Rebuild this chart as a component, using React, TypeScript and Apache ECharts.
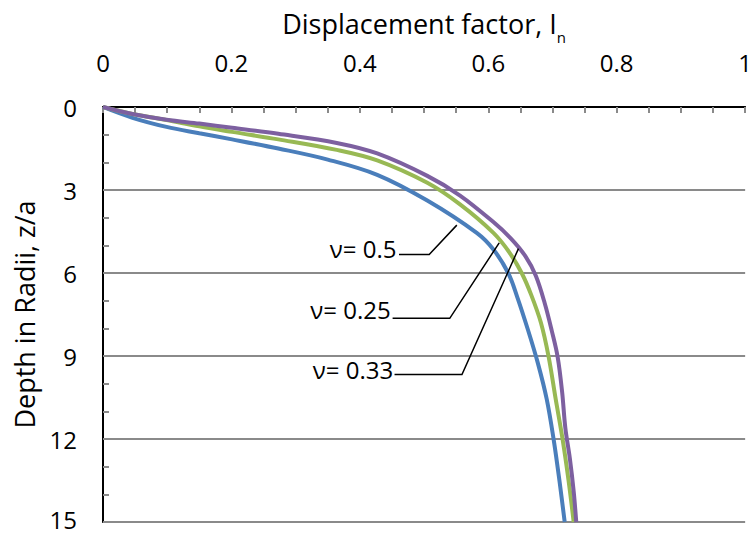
import React, { useEffect, useRef } from "react";
import * as echarts from "echarts";

const FONT = "'Open Sans', 'Noto Sans', sans-serif";

// Displacement factor I_n versus depth z/a, one curve per Poisson's ratio
const nu050: [number, number][] = [
  [0, 0], [0.046, 0.39], [0.099, 0.72], [0.15, 0.95], [0.201, 1.17], [0.273, 1.5],
  [0.35, 1.9], [0.427, 2.45], [0.505, 3.38], [0.582, 4.55], [0.608, 5.15], [0.631, 6.0],
  [0.645, 6.86], [0.662, 8.07], [0.677, 9.24], [0.691, 10.56], [0.702, 12.05],
  [0.711, 13.54], [0.719, 15],
];
const nu025: [number, number][] = [
  [0, 0], [0.046, 0.25], [0.099, 0.47], [0.15, 0.7], [0.201, 0.9], [0.273, 1.17],
  [0.364, 1.55], [0.427, 1.93], [0.505, 2.74], [0.556, 3.52], [0.608, 4.55], [0.633, 5.26],
  [0.652, 6.0], [0.667, 6.8], [0.682, 7.8], [0.694, 9.03], [0.705, 10.56], [0.716, 12.05],
  [0.725, 13.5], [0.733, 15],
];
const nu033: [number, number][] = [
  [0, 0], [0.046, 0.25], [0.099, 0.46], [0.15, 0.6], [0.201, 0.75], [0.273, 0.97],
  [0.364, 1.3], [0.427, 1.68], [0.505, 2.49], [0.556, 3.2], [0.608, 4.16], [0.635, 4.75],
  [0.658, 5.4], [0.674, 6.1], [0.688, 7.1], [0.699, 8.1], [0.708, 9.03], [0.715, 10.3],
  [0.72, 11.6], [0.727, 12.7], [0.733, 13.9], [0.737, 15],
];

const seriesNames = ["ν= 0.5", "ν= 0.25", "ν= 0.33"];
const seriesColors = ["#4A7EBB", "#98B954", "#7D60A0"];

// Curve labels: text anchor (right edge), leader start, elbow and tip on the curve (data units)
const noteText: [number, number][] = [[0.457, 5.12], [0.448, 7.33], [0.452, 9.48]];
const noteStart: [number, number][] = [[0.461, 5.33], [0.451, 7.64], [0.454, 9.67]];
const noteElbow: [number, number][] = [[0.508, 5.33], [0.54, 7.64], [0.559, 9.67]];
const noteTip: [number, number][] = [[0.551, 4.27], [0.617, 4.91], [0.647, 5.12]];

const GRAY = "#8A8A8A";

export default function App() {
  const ref = useRef<HTMLDivElement>(null);

  useEffect(() => {
    if (!ref.current) return;
    const chart = echarts.init(ref.current, undefined, { renderer: "svg" });

    const data = [nu050, nu025, nu033];

    chart.setOption({
      animation: false,
      backgroundColor: "#ffffff",
      textStyle: { fontFamily: FONT },
      grid: { left: 103, top: 100, width: 648, height: 422, containLabel: false },
      xAxis: [
        {
          type: "value",
          position: "top",
          min: 0,
          max: 1,
          interval: 0.2,
          name: "{t|Displacement factor, I}{s|n}",
          nameLocation: "middle",
          nameGap: 66,
          nameTextStyle: {
            rich: {
              t: { fontSize: 27, fontFamily: FONT, color: "#000", lineHeight: 36 },
              s: { fontSize: 15, fontFamily: FONT, color: "#000", lineHeight: 15, verticalAlign: "top", padding: [24, 0, 0, 0] },
            },
          },
          axisLine: { show: true, lineStyle: { color: GRAY, width: 2 } },
          axisTick: { show: true, inside: true, length: 6, lineStyle: { color: GRAY, width: 2 } },
          minorTick: { show: true, splitNumber: 4, length: 6, lineStyle: { color: GRAY, width: 2 } },
          axisLabel: { margin: 33, fontSize: 24, color: "#000", fontFamily: FONT },
          splitLine: { show: false },
        },
        {
          type: "value",
          position: "bottom",
          min: 0,
          max: 1,
          axisLine: { show: true, lineStyle: { color: "#000", width: 2 } },
          axisTick: { show: false },
          axisLabel: { show: false },
          splitLine: { show: false },
        },
      ],
      yAxis: [
        {
          type: "value",
          inverse: true,
          min: 0,
          max: 15,
          interval: 3,
          name: "Depth in Radii, z/a",
          nameLocation: "middle",
          nameGap: 65,
          nameRotate: 90,
          nameTextStyle: { fontSize: 27, color: "#000", fontFamily: FONT },
          axisLine: { show: true, lineStyle: { color: GRAY, width: 2 } },
          axisTick: { show: true, inside: true, length: 6, lineStyle: { color: GRAY, width: 2 } },
          minorTick: { show: true, splitNumber: 3, length: 6, lineStyle: { color: GRAY, width: 2 } },
          axisLabel: {
            margin: 26,
            fontSize: 24,
            color: "#000",
            fontFamily: FONT,
            formatter: (v: number) => (v === 15 ? "{last|15}" : String(v)),
            rich: {
              last: { fontSize: 24, fontFamily: FONT, color: "#000", padding: [0, 0, 6, 0] },
            },
          },
          splitLine: { show: true, lineStyle: { color: GRAY, width: 2 } },
        },
        {
          type: "value",
          position: "right",
          inverse: true,
          min: 0,
          max: 15,
          axisLine: { show: true, lineStyle: { color: "#000", width: 2 } },
          axisTick: { show: false },
          axisLabel: { show: false },
          splitLine: { show: false },
        },
      ],
      series: data.map((d, i) => ({
        name: seriesNames[i],
        type: "line",
        xAxisIndex: 0,
        yAxisIndex: 0,
        data: d,
        smooth: 0.35,
        showSymbol: false,
        symbol: "none",
        lineStyle: { color: seriesColors[i], width: 4 },
        z: 3 + i,
      })),
    });

    const px = (p: [number, number]) =>
      chart.convertToPixel({ xAxisIndex: 0, yAxisIndex: 0 }, p) as number[];

    const graphics: any[] = [];
    seriesNames.forEach((label, i) => {
      const t = px(noteText[i]);
      graphics.push({
        type: "text",
        x: t[0],
        y: t[1],
        z: 10,
        style: {
          text: label,
          fill: "#000",
          fontSize: 24,
          fontFamily: FONT,
          align: "right",
          verticalAlign: "middle",
        },
      });
      graphics.push({
        type: "polyline",
        z: 10,
        shape: { points: [px(noteStart[i]), px(noteElbow[i]), px(noteTip[i])] },
        style: { stroke: "#000", lineWidth: 1.5, fill: null },
      });
    });
    chart.setOption({ graphic: graphics });

    return () => chart.dispose();
  }, []);

  return (
    <div
      ref={ref}
      style={{ position: "absolute", left: 0, top: 0, width: 755, height: 535, background: "#fff" }}
    />
  );
}
